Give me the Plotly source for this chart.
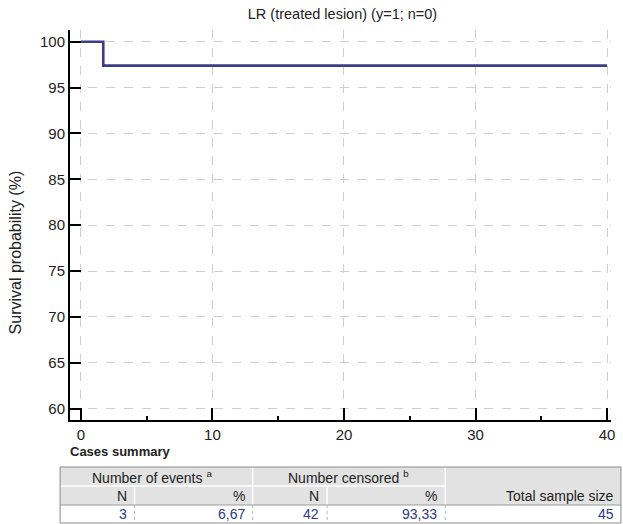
import plotly.graph_objects as go

# ---- data ----
time_months = [0, 1.7, 40]
survival_pct = [100, 97.4, 97.4]

title_text = "LR (treated lesion) (y=1; n=0)"
y_title = "Survival probability (%)"
x_ticks = [0, 10, 20, 30, 40]
y_ticks = [60, 65, 70, 75, 80, 85, 90, 95, 100]

table_group_headers = ["Number of events <sup>a</sup>", "Number censored <sup>b</sup>"]
table_sub_headers = ["N", "%", "N", "%"]
table_total_header = "Total sample size"
table_values = ["3", "6,67", "42", "93,33", "45"]

FONT = "Liberation Sans, Arial, sans-serif"
W, H = 623, 524
L, R, T, B = 70, 8, 30, 104
PW = W - L - R
PH = H - T - B


def px(x):
    return (x - L) / PW


def py(y):
    return (H - B - y) / PH


fig = go.Figure()
fig.add_trace(go.Scatter(
    x=time_months, y=survival_pct, mode="lines", line_shape="hv",
    line=dict(color="#3d3d88", width=2.6), showlegend=False, hoverinfo="skip"))

fig.update_layout(
    width=W, height=H,
    margin=dict(l=L, r=R, t=T, b=B),
    paper_bgcolor="white", plot_bgcolor="white",
    font=dict(family=FONT, color="#222", size=14),
    title=dict(text=title_text, x=(L + PW / 2) / W, xanchor="center",
               y=1 - 14 / H, yanchor="middle", yref="container",
               font=dict(size=14.5, color="#222")),
    xaxis=dict(range=[-0.83, 40.3], tickvals=x_ticks, ticks="inside", ticklen=12,
               tickwidth=1.5, tickcolor="black", showline=True, linecolor="black",
               linewidth=2, showgrid=True, gridcolor="#cfcfcf", griddash="dash",
               gridwidth=1, zeroline=False, tickfont=dict(size=15),
               minor=dict(dtick=5, ticks="inside", ticklen=4, tickcolor="black",
                          showgrid=False)),
    yaxis=dict(range=[58.77, 101.28], tickvals=y_ticks, ticks="inside", ticklen=11,
               tickwidth=1.5, tickcolor="black", showline=True, linecolor="black",
               linewidth=2, showgrid=True, gridcolor="#cfcfcf", griddash="dash",
               gridwidth=1, zeroline=False, tickfont=dict(size=15)),
)

shapes = []
annotations = []

# y-axis title (placed as annotation to match vertical position)
annotations.append(dict(text=y_title, x=px(15), y=py(252), xref="paper", yref="paper",
                        xanchor="center", yanchor="middle", textangle=-90,
                        showarrow=False, font=dict(size=16, color="#222")))

# Cases summary label
annotations.append(dict(text="<b>Cases summary</b>", x=px(68), y=py(451), xref="paper",
                        yref="paper", xanchor="left", yanchor="middle", showarrow=False,
                        font=dict(size=13, color="#222")))

cols = [60, 135, 254, 329, 448, 625]
rows = [467, 486, 505, 523]


def rect(x0, y0, x1, y1, fill, line_color=None, width=0, dash="solid"):
    shapes.append(dict(type="rect", xref="paper", yref="paper",
                       x0=px(x0), x1=px(x1), y0=py(y0), y1=py(y1),
                       fillcolor=fill, line=dict(color=line_color or fill, width=width, dash=dash),
                       layer="above"))


def line(x0, y0, x1, y1, color, width=1, dash="solid"):
    shapes.append(dict(type="line", xref="paper", yref="paper",
                       x0=px(x0), x1=px(x1), y0=py(y0), y1=py(y1),
                       line=dict(color=color, width=width, dash=dash)))


def text(t, x, y, anchor="right", color="#222", size=14):
    annotations.append(dict(text=t, x=px(x), y=py(y), xref="paper", yref="paper",
                            xanchor=anchor, yanchor="middle", showarrow=False,
                            font=dict(size=size, color=color)))


# header background
rect(cols[0], rows[0], cols[5], rows[2], "#e2e2e2")
# white separators in header
line(cols[0], rows[1], cols[4], rows[1], "white", 1.5)
for c in [cols[2], cols[4]]:
    line(c, rows[0], c, rows[2], "white", 1.5)
for c in [cols[1], cols[3]]:
    line(c, rows[1], c, rows[2], "white", 1.5)
# data row
line(cols[0], rows[2], cols[5], rows[2], "#9a9a9a", 1)
for c in cols[1:5]:
    line(c, rows[2], c, rows[3], "#b5b5b5", 1, "dot")
# outer border
shapes.append(dict(type="rect", xref="paper", yref="paper", x0=px(cols[0]), x1=px(cols[5]),
                   y0=py(rows[0]), y1=py(rows[3]), line=dict(color="#8a8a8a", width=1)))

r0 = (rows[0] + rows[1]) / 2
r1 = (rows[1] + rows[2]) / 2
r2 = (rows[2] + rows[3]) / 2
text(table_group_headers[0], (cols[0] + cols[2]) / 2 - 4, r0, "center")
text(table_group_headers[1], (cols[2] + cols[4]) / 2, r0, "center")
for i, t in enumerate(table_sub_headers):
    text(t, cols[i + 1] - 6, r1)
text(table_total_header, 620, r1)
for i, t in enumerate(table_values[:4]):
    text(t, cols[i + 1] - 6, r2, color="#2e3a90")
text(table_values[4], 620, r2, color="#2e3a90")

fig.update_layout(shapes=shapes, annotations=annotations)
fig.write_html("out.html", config={"displayModeBar": False},
               post_script="document.body.style.margin='0';document.body.style.overflow='hidden';")
